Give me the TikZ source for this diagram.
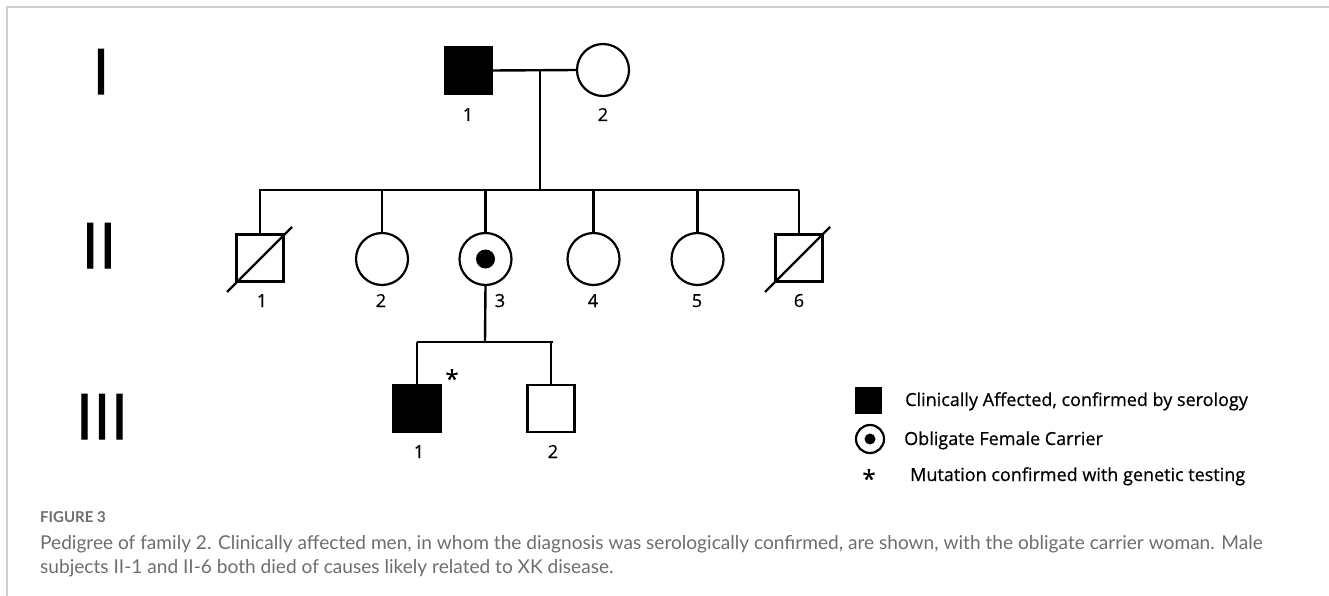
\documentclass[tikz,border=0pt]{standalone}
\usepackage{fontspec}
\setmainfont{Open Sans}
\newfontfamily\boldish{Open Sans}[FakeBold=0.6]
\newfontfamily\genfont{Open Sans}[FakeBold=1.6]
\newfontfamily\capfont{Lato}
\usetikzlibrary{calc}
\definecolor{capgray}{HTML}{6E6E6E}
\definecolor{framegray}{HTML}{CFCFCF}
\begin{document}
\begin{tikzpicture}[x=1pt,y=-1pt,
  male/.style={draw,line width=2.2pt,minimum size=47pt,inner sep=0pt,outer sep=0pt},
  female/.style={draw,circle,line width=2.2pt,minimum size=52pt,inner sep=0pt,outer sep=0pt},
  affected/.style={fill=black},
  conn/.style={line width=2.4pt},
  slash/.style={line width=2.2pt},
  num/.style={font=\boldish\fontsize{18}{18}\selectfont,anchor=base,inner sep=0pt},
  gen/.style={font=\genfont\fontsize{63}{63}\selectfont,anchor=base,inner sep=0pt},
  legtext/.style={font=\boldish\fontsize{18}{18}\selectfont,anchor=base west,inner sep=0pt},
  star/.style={font=\boldish\fontsize{24}{24}\selectfont,anchor=north,inner sep=0pt}
]
\useasboundingbox (0,0) rectangle (1329,596);
\fill[white] (0,0) rectangle (1329,596);
% frame
\draw[framegray,line width=1.5pt] (7,596) -- (7,7) -- (1329,7);
% generation labels
\node[gen] (gI) at (101,94) {I};
\node[gen] (gII) at (99,268) {II};
\node[gen] (gIII) at (102,439) {III};
% generation I
\node[male,affected] (I1) at (468.5,70.5) {};
\node[female] (I2) at (603,70) {};
\node[num] (lI1) at (468,121) {1};
\node[num] (lI2) at (603,121) {2};
\coordinate (mI) at (540,70);
\coordinate (sII) at (540,190);
\coordinate (sIIl) at (259,190);
\coordinate (sIIr) at (799,190);
\draw[conn] (I1.east) -- (I2.west);
\draw[conn] (mI) -- (sII);
\draw[conn] (sIIl) -- (sIIr);
% generation II
\node[male] (II1) at (260,258) {};
\node[female] (II2) at (382,259) {};
\node[female] (II3) at (485.5,259) {};
\node[female] (II4) at (593.5,259) {};
\node[female] (II5) at (697.5,259) {};
\node[male] (II6) at (799,258) {};
\fill (II3.center) circle (9.5pt);
\foreach \n in {II1,II2,II3,II4,II5,II6}{
  \draw[conn] (\n.north |- sII) -- (\n.north);
}
\draw[slash] ([shift={(-33,34)}]II1.center) -- ([shift={(32,-31)}]II1.center);
\draw[slash] ([shift={(-34,34)}]II6.center) -- ([shift={(31,-31)}]II6.center);
\node[num] (lII1) at (262,307) {1};
\node[num] (lII2) at (381,307) {2};
\node[num] (lII3) at (500,307) {3};
\node[num] (lII4) at (593,307) {4};
\node[num] (lII5) at (697,307) {5};
\node[num] (lII6) at (799,307) {6};
% generation III
\coordinate (sIII) at (485,342);
\coordinate (sIIIl) at (417,342);
\coordinate (sIIIr) at (553,342);
\draw[conn] (II3.south) -- (sIII);
\draw[conn] (sIIIl) -- (sIIIr);
\node[male,affected] (III1) at (417,408.5) {};
\node[male] (III2) at (551,408.5) {};
\draw[conn] (III1.north |- sIII) -- (III1.north);
\draw[conn] (III2.north |- sIII) -- (III2.north);
\node[star] (ast) at (452,369) {*};
\node[num] (lIII1) at (419,458) {1};
\node[num] (lIII2) at (553,458) {2};
% legend
\node[fill=black,minimum size=27pt,inner sep=0pt] (lg1) at (868.5,400.5) {};
\node[draw,circle,line width=2.2pt,minimum size=28pt,inner sep=0pt] (lg2) at (870,439) {};
\fill (lg2.center) circle (5.5pt);
\node[star] (lg3) at (869,469) {*};
\node[legtext] (lt1) at (905,406) {Clinically Affected, confirmed by serology};
\node[legtext] (lt2) at (904,445) {Obligate Female Carrier};
\node[legtext] (lt3) at (910,481) {Mutation confirmed with genetic testing};
% caption
\node[anchor=base west,inner sep=0pt,text=capgray,font=\capfont\bfseries\fontsize{15}{15}\selectfont] (fig) at (40,522) {FIGURE 3};
\node[anchor=base west,inner sep=0pt,text=capgray,font=\capfont\fontsize{19.1}{19.1}\selectfont] (cap1) at (40,549) {Pedigree of family 2. Clinically affected men, in whom the diagnosis was serologically confirmed, are shown, with the obligate carrier woman. Male};
\node[anchor=base west,inner sep=0pt,text=capgray,font=\capfont\fontsize{19.1}{19.1}\selectfont] (cap2) at (40,573) {subjects II-1 and II-6 both died of causes likely related to XK disease.};
\end{tikzpicture}
\end{document}
